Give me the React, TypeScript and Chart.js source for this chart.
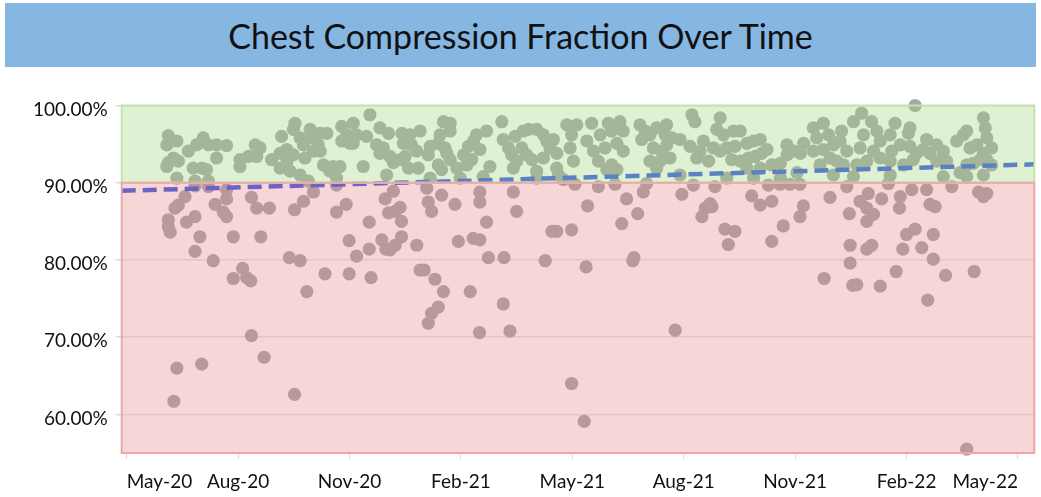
import React, { useEffect, useRef } from 'react';
import { Chart, registerables } from 'chart.js';

Chart.register(...registerables);

// X axis: months since May 2020 (tick every 3 months)
const xTickMonths = [0, 3, 6, 9, 12, 15, 18, 21, 24];
const xTickLabels = ['May-20', 'Aug-20', 'Nov-20', 'Feb-21', 'May-21', 'Aug-21', 'Nov-21', 'Feb-22', 'May-22'];
const yTicks = [60, 70, 80, 90, 100];
const targetZone = [90, 100];
const belowZone = [55, 90];

// Linear trend line (start / end)
const trendMonth = [-0.135, 24.44];
const trendPct = [88.96, 92.38];

// Each case: month offset and chest compression fraction (%)
const caseMonth = [
  // below target, May-20 .. Dec-20
  1.57, 1.30, 1.39, 1.12, 1.12, 1.17, 1.84, 1.61, 1.97, 1.84,
  2.33, 2.38, 2.60, 2.69, 2.69, 2.87, 2.87, 3.12, 3.23, 3.34,
  3.36, 3.50, 3.84, 3.61, 3.36, 3.70, 1.35, 2.02, 1.27, 4.52,
  4.38, 4.67, 4.52, 4.76, 5.03, 4.85, 5.34, 5.65, 5.91, 5.99,
  5.99, 6.19, 6.53, 6.53, 6.58, 6.87, 6.96, 7.05, 7.18, 7.23,
  7.36, 7.40, 7.40, 6.98, 7.09, 7.23, 7.81, 7.90, 1.84, 2.20,
  2.69, 5.65,
  // below target, Jan-21 .. Sep-21
  8.08, 8.12, 8.21, 8.48, 8.84, 8.01, 8.30, 8.53, 8.21, 8.39,
  8.12, 8.93, 9.25, 9.33, 9.51, 9.51, 9.51, 9.69, 9.50, 9.74,
  10.16, 10.14, 10.32, 10.41, 10.50, 11.27, 11.45, 11.58, 11.98, 11.98,
  12.32, 12.37, 12.41, 12.70, 13.33, 13.46, 13.76, 13.91, 13.63, 13.66,
  14.77, 14.95, 15.49, 15.58, 15.71, 15.76, 15.84, 12.07, 13.15, 14.00,
  15.26,
  // below target, Sep-21 .. May-22
  16.11, 16.38, 16.20, 16.83, 17.06, 17.37, 17.37, 17.68, 18.13, 18.22,
  17.28, 17.59, 17.86, 18.13, 18.94, 18.78, 19.39, 19.46, 19.48, 19.48,
  19.55, 19.66, 19.75, 19.93, 19.97, 20.11, 19.93, 19.93, 20.06, 20.29,
  20.33, 20.51, 20.72, 20.83, 20.81, 21.00, 21.23, 20.90, 21.41, 21.14,
  21.54, 21.57, 21.63, 21.77, 21.72, 21.72, 22.05, 22.22, 22.82, 22.94,
  23.07, 23.16, 22.62,
  // on target, May-20 .. Nov-20
  1.12, 1.08, 1.35, 1.66, 1.88, 2.06, 2.20, 2.42, 2.69, 2.42,
  1.26, 1.12, 1.39, 1.08, 1.79, 2.02, 2.15, 1.35, 1.84, 2.20,
  3.05, 3.28, 3.50, 3.05, 3.46, 3.59, 3.90, 4.17, 4.31, 4.13,
  4.49, 4.31, 4.13, 4.40, 4.53, 4.49, 4.67, 4.76, 4.94, 4.98,
  5.21, 5.39, 5.16, 5.03, 5.21, 4.80, 4.67, 4.89, 5.30, 5.56,
  5.74, 5.47, 5.65, 5.79, 5.92, 6.01, 5.79,
  // on target, Nov-20 .. May-21
  6.10, 6.55, 6.19, 6.46, 6.10, 6.82, 7.05, 6.73, 6.91, 6.82,
  7.09, 7.18, 7.00, 6.37, 7.41, 7.63, 7.90, 7.45, 7.67, 7.81,
  7.50, 7.36, 7.59, 7.85, 8.17, 8.12, 8.44, 8.53, 8.71, 8.39,
  8.57, 8.71, 8.62, 8.71, 8.39, 8.48, 8.17, 8.89, 9.07, 9.20,
  9.34, 9.42, 9.69, 9.51, 9.29, 9.16, 9.78, 10.10, 10.14, 10.28,
  10.46, 10.68, 10.82, 11.04, 10.64, 10.37, 10.50, 10.77, 10.91, 10.41,
  11.22, 11.31, 11.40, 11.49, 11.58, 11.22, 11.04, 11.58, 11.63, 11.85,
  12.12, 11.98, 11.94, 12.03, 8.98, 9.60, 11.04, 11.76,
  // on target, May-21 .. Nov-21
  12.52, 12.75, 12.97, 13.06, 13.28, 13.37, 12.39, 12.57, 12.70, 12.88,
  13.20, 13.37, 13.06, 12.93, 13.20, 13.82, 13.96, 13.87, 14.09, 14.27,
  14.54, 14.50, 14.68, 14.90, 14.18, 14.41, 14.54, 14.36, 14.63, 14.09,
  14.27, 15.22, 15.30, 15.17, 15.44, 15.53, 15.35, 15.67, 15.98, 15.89,
  16.07, 16.34, 16.52, 15.80, 15.98, 16.16, 16.38, 16.70, 16.88, 17.06,
  16.29, 16.52, 16.74, 16.92, 17.10, 17.24, 16.70, 17.06, 17.37, 17.60,
  17.78, 17.96, 18.23, 18.14, 17.78, 14.90, 16.16, 16.88, 17.60, 18.05,
  // on target, Nov-21 .. May-22
  18.49, 18.76, 18.90, 18.58, 18.49, 18.76, 19.03, 19.25, 19.21, 19.39,
  18.94, 19.12, 18.67, 19.30, 19.03, 19.79, 20.06, 19.57, 19.84, 19.75,
  20.20, 20.29, 20.11, 20.29, 19.93, 19.66, 20.56, 20.69, 20.83, 20.60,
  20.56, 20.92, 21.09, 21.05, 21.09, 21.27, 21.18, 21.23, 21.54, 21.45,
  21.63, 21.81, 21.99, 21.81, 22.08, 22.35, 22.53, 22.62, 22.71, 22.89,
  23.07, 23.12, 23.16, 23.07, 23.29, 22.62, 22.80, 22.98, 23.16, 22.44,
  19.57, 20.56, 21.99, 22.62, 23.07, 23.29,
];

const ccfPct = [
  88.2, 86.7, 87.1, 85.2, 84.3, 83.6, 85.6, 84.9, 83.0, 81.1,
  79.9, 87.2, 86.2, 85.6, 87.9, 83.0, 77.6, 78.9, 77.7, 77.3,
  88.1, 86.7, 86.7, 83.0, 70.2, 67.4, 66.0, 66.5, 61.7, 62.6,
  80.3, 79.9, 86.5, 87.6, 88.8, 75.9, 78.2, 86.2, 87.2, 82.5,
  78.2, 80.5, 84.9, 81.4, 77.7, 82.6, 87.9, 86.1, 88.9, 86.3,
  86.8, 85.0, 83.0, 81.4, 81.3, 81.9, 81.9, 78.7, 89.6, 89.5,
  89.1, 89.7,
  89.3, 87.5, 86.3, 88.4, 87.2, 78.7, 77.5, 75.9, 73.1, 73.9,
  71.8, 82.4, 75.9, 82.8, 82.6, 88.8, 87.5, 84.9, 70.6, 80.3,
  80.3, 74.3, 70.8, 88.8, 86.3, 79.9, 83.7, 83.7, 83.9, 64.0,
  59.1, 79.1, 87.0, 89.5, 84.7, 87.9, 86.0, 88.8, 79.9, 80.3,
  70.9, 88.5, 85.6, 86.7, 87.3, 86.9, 89.5, 89.8, 89.8, 89.9,
  89.7,
  84.0, 83.7, 82.0, 88.3, 87.1, 87.6, 82.4, 84.4, 85.6, 87.0,
  89.7, 89.8, 89.8, 89.8, 88.1, 77.6, 89.5, 86.0, 81.9, 79.6,
  76.7, 76.8, 87.6, 86.7, 88.6, 85.9, 85.0, 81.4, 81.9, 76.6,
  87.9, 89.9, 78.5, 88.2, 86.7, 83.3, 84.0, 81.4, 81.6, 89.1,
  89.1, 74.8, 87.2, 86.9, 83.3, 80.1, 78.0, 89.5, 78.5, 88.8,
  88.2, 88.6, 55.5,
  96.1, 94.9, 95.4, 94.1, 94.9, 95.8, 94.9, 94.9, 94.8, 93.2,
  93.2, 92.6, 92.8, 92.1, 91.9, 91.9, 91.7, 90.6, 90.2, 90.2,
  93.0, 93.4, 93.4, 92.1, 94.9, 94.5, 93.0, 96.0, 94.3, 93.8,
  93.6, 92.6, 91.9, 91.5, 97.7, 96.9, 95.8, 94.9, 96.9, 95.8,
  96.4, 96.4, 94.9, 94.1, 94.1, 93.2, 91.0, 90.2, 92.3, 92.1,
  92.1, 91.5, 90.6, 97.3, 96.2, 95.1, 95.4,
  97.7, 98.8, 96.2, 96.0, 95.1, 97.1, 96.4, 94.9, 94.5, 93.8,
  93.4, 92.6, 91.0, 92.1, 96.4, 96.2, 96.7, 95.1, 94.9, 94.1,
  93.4, 93.0, 91.9, 91.9, 94.7, 93.6, 96.2, 97.9, 97.7, 95.1,
  94.5, 96.7, 93.8, 93.0, 92.3, 91.7, 90.6, 91.9, 93.6, 94.7,
  95.4, 96.2, 96.7, 94.3, 93.0, 92.3, 92.1, 97.9, 95.6, 94.5,
  96.0, 96.7, 96.9, 96.9, 94.5, 93.6, 92.8, 93.6, 93.0, 91.9,
  96.2, 95.4, 94.5, 95.6, 93.8, 93.2, 91.5, 91.9, 91.0, 97.5,
  97.5, 96.2, 94.5, 92.8, 90.6, 90.8, 90.6, 90.4,
  97.7, 96.2, 97.7, 96.7, 97.9, 96.7, 95.4, 94.1, 92.8, 94.5,
  95.1, 94.1, 92.3, 91.7, 91.7, 97.5, 96.7, 95.6, 96.2, 97.1,
  97.5, 96.2, 95.8, 95.6, 94.5, 94.1, 94.9, 92.8, 93.2, 92.8,
  91.9, 98.8, 97.9, 94.7, 94.1, 95.4, 93.2, 92.8, 98.4, 96.9,
  96.2, 96.7, 96.7, 94.5, 94.1, 94.5, 94.7, 95.1, 95.4, 95.6,
  93.0, 92.8, 93.2, 93.4, 93.8, 94.3, 91.9, 91.9, 92.3, 92.5,
  93.6, 94.1, 95.1, 93.8, 94.9, 91.0, 90.6, 90.6, 90.6, 91.3,
  97.1, 97.7, 96.2, 95.8, 94.1, 94.3, 94.9, 96.7, 95.4, 94.1,
  93.2, 92.8, 92.3, 92.3, 91.0, 99.0, 97.9, 97.9, 96.2, 94.5,
  96.7, 95.4, 94.1, 93.2, 92.8, 92.3, 96.2, 97.7, 94.9, 94.1,
  92.8, 92.3, 97.1, 96.4, 94.7, 93.8, 93.0, 100.0, 95.6, 94.3,
  93.8, 94.9, 94.1, 92.8, 92.8, 95.4, 96.2, 96.7, 94.5, 94.9,
  98.4, 97.1, 95.8, 93.8, 94.5, 92.3, 92.5, 93.0, 93.0, 91.3,
  90.8, 91.0, 90.8, 90.8, 91.0, 92.3,
];

export default function App() {
  const canvasRef = useRef<HTMLCanvasElement>(null);

  useEffect(() => {
    if (!canvasRef.current) return;

    const zonesPlugin = {
      id: 'zones',
      afterDatasetsDraw(chart: any) {
        const { ctx, chartArea, scales } = chart;
        const y = scales.y;
        const left = chartArea.left;
        const w = chartArea.right - chartArea.left;
        const gTop = y.getPixelForValue(targetZone[1]);
        const gBot = y.getPixelForValue(targetZone[0]);
        const rTop = y.getPixelForValue(belowZone[1]);
        const rBot = y.getPixelForValue(belowZone[0]);
        ctx.save();
        ctx.fillStyle = 'rgba(160,212,118,0.32)';
        ctx.fillRect(left, gTop, w, gBot - gTop);
        ctx.fillStyle = 'rgba(228,118,122,0.3)';
        ctx.fillRect(left, rTop, w, rBot - rTop);
        ctx.lineWidth = 2;
        ctx.strokeStyle = 'rgba(196,228,170,1)';
        ctx.strokeRect(left, gTop, w, gBot - gTop);
        ctx.strokeStyle = 'rgba(234,168,170,1)';
        ctx.strokeRect(left, rTop, w, rBot - rTop);
        ctx.restore();
      },
    };

    const points = caseMonth.map((x, i) => ({ x, y: ccfPct[i] }));
    const trend = trendMonth.map((x, i) => ({ x, y: trendPct[i] }));

    const chart = new Chart(canvasRef.current, {
      type: 'scatter',
      data: {
        datasets: [
          {
            type: 'line',
            label: 'Trend',
            data: trend,
            borderColor: '#3a5ae8',
            borderWidth: 4.5,
            borderDash: [14, 7],
            pointRadius: 0,
            fill: false,
            clip: false,
          } as any,
          {
            label: 'CCF',
            data: points,
            backgroundColor: '#a8a8a8',
            borderWidth: 0,
            pointRadius: 6.6,
            clip: false,
          } as any,
        ],
      },
      options: {
        responsive: false,
        animation: false,
        devicePixelRatio: 1,
        layout: { padding: { top: 25.5, right: 6.7, left: 0, bottom: 0 } },
        plugins: { legend: { display: false }, tooltip: { enabled: false } },
        scales: {
          x: {
            type: 'linear',
            min: -0.135,
            max: 24.44,
            afterBuildTicks: (axis: any) => {
              axis.ticks = xTickMonths.map((v) => ({ value: v }));
            },
            afterFit: (axis: any) => {
              axis.height = 44;
            },
            border: { display: false },
            grid: {
              drawOnChartArea: false,
              drawTicks: true,
              tickLength: 6,
              tickColor: 'rgba(170,170,170,0.45)',
            },
            ticks: {
              autoSkip: false,
              maxRotation: 0,
              align: 'inner',
              padding: 11,
              color: '#111111',
              font: { family: 'Lato', size: 19 },
              callback: (_v: any, i: number) => xTickLabels[i],
            },
          },
          y: {
            type: 'linear',
            min: belowZone[0],
            max: targetZone[1],
            afterBuildTicks: (axis: any) => {
              axis.ticks = yTicks.map((v) => ({ value: v }));
            },
            afterFit: (axis: any) => {
              axis.width = 121.7;
            },
            border: { display: false },
            grid: {
              color: 'rgba(0,0,0,0.11)',
              lineWidth: 1.5,
              drawTicks: true,
              tickLength: 6,
              tickColor: 'rgba(170,170,170,0.45)',
            },
            ticks: {
              padding: 8,
              labelOffset: 4,
              color: '#111111',
              font: { family: 'Lato', size: 19 },
              callback: (v: any) => Number(v).toFixed(2) + '%',
            },
          },
        },
      },
      plugins: [zonesPlugin],
    });

    return () => chart.destroy();
  }, []);

  return (
    <div
      style={{
        position: 'absolute',
        left: 0,
        top: 0,
        width: 1041,
        height: 497,
        background: '#ffffff',
        overflow: 'hidden',
      }}
    >
      <div
        style={{
          position: 'absolute',
          left: 5,
          top: 3,
          width: 1031,
          height: 64,
          background: '#85b7e2',
          display: 'flex',
          alignItems: 'center',
          justifyContent: 'center',
          fontFamily: 'Lato, sans-serif',
          fontSize: 34,
          color: '#111111',
        }}
      >
        Chest Compression Fraction Over Time
      </div>
      <canvas
        ref={canvasRef}
        width={1041}
        height={417}
        style={{ position: 'absolute', left: 0, top: 80, width: 1041, height: 417 }}
      />
    </div>
  );
}
